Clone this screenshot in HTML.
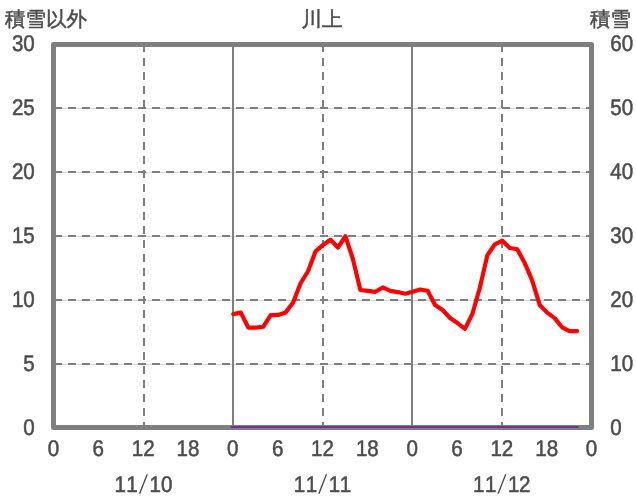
<!DOCTYPE html>
<html><head><meta charset="utf-8"><style>
html,body{margin:0;padding:0;background:#fff;}
svg{display:block;will-change:transform;text-rendering:geometricPrecision;}
text{font-family:"Liberation Sans",sans-serif;fill:#4d4d4d;}
</style></head><body>
<svg width="636" height="501" viewBox="0 0 636 501">
<rect width="636" height="501" fill="#fff"/>
<line x1="53.5" y1="108.5" x2="591.5" y2="108.5" stroke="#d9d9d9" stroke-width="1"/>
<line x1="54" y1="108" x2="591.5" y2="108" stroke="#7f7f7f" stroke-width="2" stroke-dasharray="8 6"/>
<line x1="53.5" y1="172.5" x2="591.5" y2="172.5" stroke="#d9d9d9" stroke-width="1"/>
<line x1="54" y1="172" x2="591.5" y2="172" stroke="#7f7f7f" stroke-width="2" stroke-dasharray="8 6"/>
<line x1="53.5" y1="236.5" x2="591.5" y2="236.5" stroke="#d9d9d9" stroke-width="1"/>
<line x1="54" y1="236" x2="591.5" y2="236" stroke="#7f7f7f" stroke-width="2" stroke-dasharray="8 6"/>
<line x1="53.5" y1="300.5" x2="591.5" y2="300.5" stroke="#d9d9d9" stroke-width="1"/>
<line x1="54" y1="300" x2="591.5" y2="300" stroke="#7f7f7f" stroke-width="2" stroke-dasharray="8 6"/>
<line x1="53.5" y1="364.5" x2="591.5" y2="364.5" stroke="#d9d9d9" stroke-width="1"/>
<line x1="54" y1="364" x2="591.5" y2="364" stroke="#7f7f7f" stroke-width="2" stroke-dasharray="8 6"/>
<line x1="144" y1="44" x2="144" y2="427.5" stroke="#7f7f7f" stroke-width="2" stroke-dasharray="8 6"/>
<line x1="233" y1="44.5" x2="233" y2="427.5" stroke="#7f7f7f" stroke-width="2"/>
<line x1="323" y1="44" x2="323" y2="427.5" stroke="#7f7f7f" stroke-width="2" stroke-dasharray="8 6"/>
<line x1="412" y1="44.5" x2="412" y2="427.5" stroke="#7f7f7f" stroke-width="2"/>
<line x1="502" y1="44" x2="502" y2="427.5" stroke="#7f7f7f" stroke-width="2" stroke-dasharray="8 6"/>
<rect x="53.5" y="44.5" width="538.0" height="383.0" fill="none" stroke="#7f7f7f" stroke-width="5" stroke-linejoin="round"/>
<line x1="231.6" y1="427" x2="577.6" y2="427" stroke="#7030a0" stroke-width="2.2" stroke-linecap="round"/>
<polyline points="233.33,314.13 240.81,312.60 248.28,327.54 255.75,327.54 263.22,326.77 270.69,315.15 278.17,314.90 285.64,312.60 293.11,302.51 300.58,283.24 308.06,271.24 315.53,251.32 323.00,244.94 330.47,239.83 337.94,247.49 345.42,236.26 352.89,258.98 360.36,290.00 367.83,290.90 375.31,291.79 382.78,287.45 390.25,290.90 397.72,292.05 405.19,293.71 412.67,291.79 420.14,289.49 427.61,290.77 435.08,304.94 442.56,310.05 450.03,317.96 457.50,323.07 464.97,328.81 472.44,313.75 479.92,287.45 487.39,255.15 494.86,244.30 502.33,240.72 509.81,248.00 517.28,249.28 524.75,263.07 532.22,280.68 539.69,304.94 547.17,312.60 554.64,318.09 562.11,327.28 569.58,331.11 577.06,331.11" fill="none" stroke="#ff0000" stroke-width="4.2" stroke-linejoin="round" stroke-linecap="round"/>
<text transform="translate(34.80 50.50) scale(0.91 1)" text-anchor="end" font-size="22.6" stroke="#4d4d4d" stroke-width="0.55" >30</text>
<text transform="translate(34.80 114.50) scale(0.91 1)" text-anchor="end" font-size="22.6" stroke="#4d4d4d" stroke-width="0.55" >25</text>
<text transform="translate(34.80 178.50) scale(0.91 1)" text-anchor="end" font-size="22.6" stroke="#4d4d4d" stroke-width="0.55" >20</text>
<text transform="translate(34.80 242.50) scale(0.91 1)" text-anchor="end" font-size="22.6" stroke="#4d4d4d" stroke-width="0.55" >15</text>
<text transform="translate(34.80 306.50) scale(0.91 1)" text-anchor="end" font-size="22.6" stroke="#4d4d4d" stroke-width="0.55" >10</text>
<text transform="translate(34.80 370.50) scale(0.91 1)" text-anchor="end" font-size="22.6" stroke="#4d4d4d" stroke-width="0.55" >5</text>
<text transform="translate(34.80 434.50) scale(0.91 1)" text-anchor="end" font-size="22.6" stroke="#4d4d4d" stroke-width="0.55" >0</text>
<text transform="translate(610.20 50.50) scale(0.91 1)" text-anchor="start" font-size="22.6" stroke="#4d4d4d" stroke-width="0.55" >60</text>
<text transform="translate(610.20 114.50) scale(0.91 1)" text-anchor="start" font-size="22.6" stroke="#4d4d4d" stroke-width="0.55" >50</text>
<text transform="translate(610.20 178.50) scale(0.91 1)" text-anchor="start" font-size="22.6" stroke="#4d4d4d" stroke-width="0.55" >40</text>
<text transform="translate(610.20 242.50) scale(0.91 1)" text-anchor="start" font-size="22.6" stroke="#4d4d4d" stroke-width="0.55" >30</text>
<text transform="translate(610.20 306.50) scale(0.91 1)" text-anchor="start" font-size="22.6" stroke="#4d4d4d" stroke-width="0.55" >20</text>
<text transform="translate(610.20 370.50) scale(0.91 1)" text-anchor="start" font-size="22.6" stroke="#4d4d4d" stroke-width="0.55" >10</text>
<text transform="translate(610.20 434.50) scale(0.91 1)" text-anchor="start" font-size="22.6" stroke="#4d4d4d" stroke-width="0.55" >0</text>
<text transform="translate(53.50 455.80) scale(0.91 1)" text-anchor="middle" font-size="22.6" stroke="#4d4d4d" stroke-width="0.55" >0</text>
<text transform="translate(98.33 455.80) scale(0.91 1)" text-anchor="middle" font-size="22.6" stroke="#4d4d4d" stroke-width="0.55" >6</text>
<text transform="translate(143.17 455.80) scale(0.91 1)" text-anchor="middle" font-size="22.6" stroke="#4d4d4d" stroke-width="0.55" >12</text>
<text transform="translate(188.00 455.80) scale(0.91 1)" text-anchor="middle" font-size="22.6" stroke="#4d4d4d" stroke-width="0.55" >18</text>
<text transform="translate(232.83 455.80) scale(0.91 1)" text-anchor="middle" font-size="22.6" stroke="#4d4d4d" stroke-width="0.55" >0</text>
<text transform="translate(277.67 455.80) scale(0.91 1)" text-anchor="middle" font-size="22.6" stroke="#4d4d4d" stroke-width="0.55" >6</text>
<text transform="translate(322.50 455.80) scale(0.91 1)" text-anchor="middle" font-size="22.6" stroke="#4d4d4d" stroke-width="0.55" >12</text>
<text transform="translate(367.33 455.80) scale(0.91 1)" text-anchor="middle" font-size="22.6" stroke="#4d4d4d" stroke-width="0.55" >18</text>
<text transform="translate(412.17 455.80) scale(0.91 1)" text-anchor="middle" font-size="22.6" stroke="#4d4d4d" stroke-width="0.55" >0</text>
<text transform="translate(457.00 455.80) scale(0.91 1)" text-anchor="middle" font-size="22.6" stroke="#4d4d4d" stroke-width="0.55" >6</text>
<text transform="translate(501.83 455.80) scale(0.91 1)" text-anchor="middle" font-size="22.6" stroke="#4d4d4d" stroke-width="0.55" >12</text>
<text transform="translate(546.67 455.80) scale(0.91 1)" text-anchor="middle" font-size="22.6" stroke="#4d4d4d" stroke-width="0.55" >18</text>
<text transform="translate(591.50 455.80) scale(0.91 1)" text-anchor="middle" font-size="22.6" stroke="#4d4d4d" stroke-width="0.55" >0</text>
<text transform="translate(120.10 491.60) scale(0.91 1)" text-anchor="middle" font-size="22.6" stroke="#4d4d4d" stroke-width="0.55" >1</text>
<text transform="translate(132.05 491.60) scale(0.91 1)" text-anchor="middle" font-size="22.6" stroke="#4d4d4d" stroke-width="0.55" >1</text>
<text transform="translate(155.10 491.60) scale(0.91 1)" text-anchor="middle" font-size="22.6" stroke="#4d4d4d" stroke-width="0.55" >1</text>
<text transform="translate(166.77 491.60) scale(0.91 1)" text-anchor="middle" font-size="22.6" stroke="#4d4d4d" stroke-width="0.55" >0</text>
<text transform="translate(143.27 493.6) scale(1.45 1)" text-anchor="middle" font-size="28" stroke="#fff" stroke-width="1.05">/</text>
<text transform="translate(299.43 491.60) scale(0.91 1)" text-anchor="middle" font-size="22.6" stroke="#4d4d4d" stroke-width="0.55" >1</text>
<text transform="translate(311.38 491.60) scale(0.91 1)" text-anchor="middle" font-size="22.6" stroke="#4d4d4d" stroke-width="0.55" >1</text>
<text transform="translate(334.43 491.60) scale(0.91 1)" text-anchor="middle" font-size="22.6" stroke="#4d4d4d" stroke-width="0.55" >1</text>
<text transform="translate(345.50 491.60) scale(0.91 1)" text-anchor="middle" font-size="22.6" stroke="#4d4d4d" stroke-width="0.55" >1</text>
<text transform="translate(322.60 493.6) scale(1.45 1)" text-anchor="middle" font-size="28" stroke="#fff" stroke-width="1.05">/</text>
<text transform="translate(478.76 491.60) scale(0.91 1)" text-anchor="middle" font-size="22.6" stroke="#4d4d4d" stroke-width="0.55" >1</text>
<text transform="translate(490.71 491.60) scale(0.91 1)" text-anchor="middle" font-size="22.6" stroke="#4d4d4d" stroke-width="0.55" >1</text>
<text transform="translate(513.76 491.60) scale(0.91 1)" text-anchor="middle" font-size="22.6" stroke="#4d4d4d" stroke-width="0.55" >1</text>
<text transform="translate(524.83 491.60) scale(0.91 1)" text-anchor="middle" font-size="22.6" stroke="#4d4d4d" stroke-width="0.55" >2</text>
<text transform="translate(501.93 493.6) scale(1.45 1)" text-anchor="middle" font-size="28" stroke="#fff" stroke-width="1.05">/</text>
<text x="5" y="26.2" font-size="20.5" stroke="#4d4d4d" stroke-width="0.5">積雪以外</text>
<text x="322" y="26.4" text-anchor="middle" font-size="20.5" stroke="#4d4d4d" stroke-width="0.5">川上</text>
<text x="631" y="26.2" text-anchor="end" font-size="20.5" stroke="#4d4d4d" stroke-width="0.5">積雪</text>
</svg>
</body></html>
